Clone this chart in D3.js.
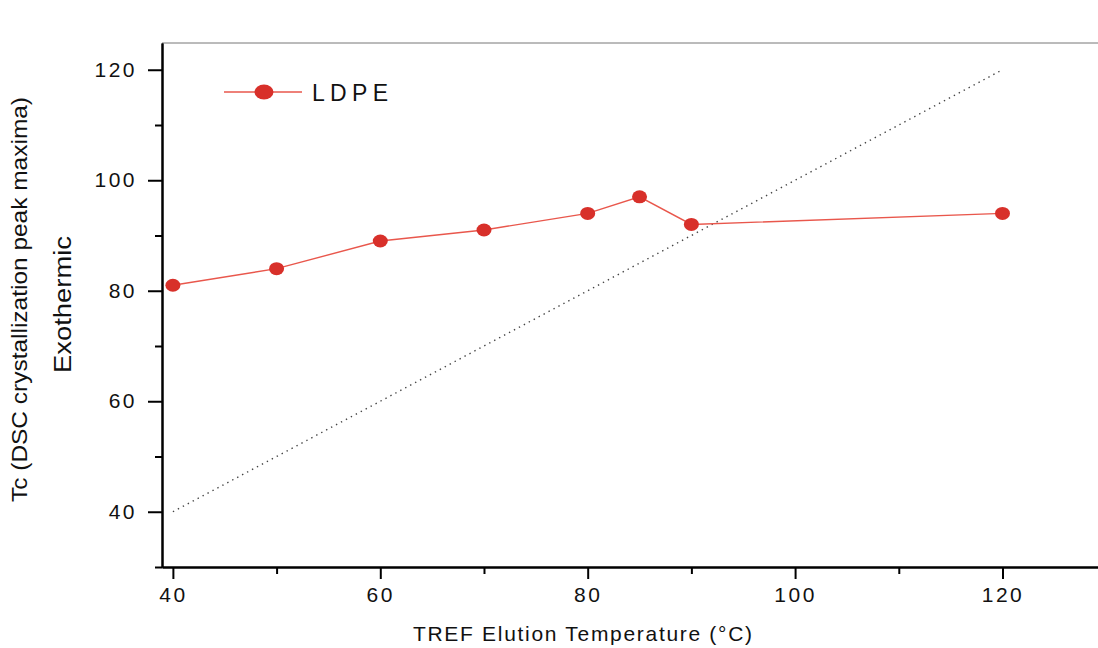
<!DOCTYPE html>
<html>
<head>
<meta charset="utf-8">
<script src="https://cdn.jsdelivr.net/npm/d3@7"></script>
<style>
  body { margin: 0; background: #fff; }
  text { font-family: Arial, "Liberation Sans", sans-serif; fill: #111; }
</style>
</head>
<body>
<svg id="chart" width="1098" height="648"></svg>
<script>
// data
const elutionTemp = [40, 50, 60, 70, 80, 85, 90, 120];
const peakTc = [81, 84, 89, 91, 94, 97, 92, 94];
const refLine = [[40, 40], [120, 120]];
const xTicks = [40, 60, 80, 100, 120];
const xMinor = [50, 70, 90, 110, 130];
const yTicks = [40, 60, 80, 100, 120];
const yMinor = [30, 50, 70, 90, 110];

const margin = { left: 162, right: 0, top: 43, bottom: 81 };
const width = 1098 - margin.left - margin.right;
const height = 648 - margin.top - margin.bottom;

const svg = d3.select('#chart');
const g = svg.append('g').attr('transform', `translate(${margin.left},${margin.top})`);

const x = d3.scaleLinear().domain([38.95, 38.95 + width / 10.37]).range([0, width]);
const y = d3.scaleLinear().domain([30, 30 + height / 5.525]).range([height, 0]);

// top frame line (faint)
g.append('line')
  .attr('x1', 0).attr('x2', width)
  .attr('y1', 0).attr('y2', 0)
  .attr('stroke', '#777').attr('stroke-width', 1);

// diagonal reference y = x
g.append('path')
  .datum(refLine)
  .attr('fill', 'none')
  .attr('stroke', '#444')
  .attr('stroke-width', 1.4)
  .attr('stroke-dasharray', '1.4,4.2')
  .attr('d', d3.line().x(d => x(d[0])).y(d => y(d[1])));

const pts = elutionTemp.map((t, i) => ({ t, v: peakTc[i] }));

g.append('path')
  .datum(pts)
  .attr('fill', 'none')
  .attr('stroke', '#e9574c')
  .attr('stroke-width', 1.4)
  .attr('d', d3.line().x(d => x(d.t)).y(d => y(d.v)));

g.selectAll('.pt')
  .data(pts)
  .join('ellipse')
  .attr('class', 'pt')
  .attr('cx', d => x(d.t))
  .attr('cy', d => y(d.v))
  .attr('rx', 7.5)
  .attr('ry', 6.5)
  .attr('fill', '#d8302a');

// axes
const xAxis = d3.axisBottom(x).tickValues(xTicks).tickSize(12).tickPadding(8).tickSizeOuter(0);
const xAxisMinor = d3.axisBottom(x).tickValues(xMinor).tickSize(7).tickFormat('').tickSizeOuter(0);
const yAxis = d3.axisLeft(y).tickValues(yTicks).tickSize(14).tickPadding(11).tickSizeOuter(0);
const yAxisMinor = d3.axisLeft(y).tickValues(yMinor).tickSize(7).tickFormat('').tickSizeOuter(0);

function styleAxis(sel) {
  sel.attr('font-size', null).attr('font-family', null);
  sel.select('.domain').attr('stroke', '#000').attr('stroke-width', 2);
  sel.selectAll('.tick line').attr('stroke', '#000').attr('stroke-width', 2);
  sel.selectAll('.tick text')
    .style('font-size', '21px')
    .style('letter-spacing', '2.5px')
    .attr('fill', '#111');
}

g.append('g').attr('transform', `translate(0,${height})`).call(xAxisMinor).call(styleAxis);
g.append('g').attr('transform', `translate(0,${height})`).call(xAxis).call(styleAxis);
g.append('g').call(yAxisMinor).call(styleAxis);
g.append('g').call(yAxis).call(styleAxis);

// legend
const legend = svg.append('g').attr('transform', 'translate(224,92)');
legend.append('line').attr('x1', 0).attr('x2', 78).attr('y1', 0).attr('y2', 0)
  .attr('stroke', '#e9574c').attr('stroke-width', 1.4);
legend.append('ellipse').attr('cx', 40).attr('cy', 0).attr('rx', 9.5).attr('ry', 7.5).attr('fill', '#d8302a');
legend.append('text').attr('x', 312 - 224).attr('y', 9)
  .attr('textLength', 76).attr('lengthAdjust', 'spacing')
  .style('font-size', '23px').text('LDPE');

// axis titles
svg.append('text')
  .attr('x', 413).attr('y', 641)
  .attr('textLength', 339).attr('lengthAdjust', 'spacing')
  .style('font-size', '21px')
  .text('TREF Elution Temperature (°C)');

svg.append('text')
  .attr('transform', 'translate(27,502) rotate(-90)')
  .attr('textLength', 405).attr('lengthAdjust', 'spacingAndGlyphs')
  .style('font-size', '22px')
  .text('Tc (DSC crystallization peak maxima)');

svg.append('text')
  .attr('transform', 'translate(71,373) rotate(-90)')
  .attr('textLength', 137).attr('lengthAdjust', 'spacingAndGlyphs')
  .style('font-size', '23px')
  .text('Exothermic');
</script>
</body>
</html>
